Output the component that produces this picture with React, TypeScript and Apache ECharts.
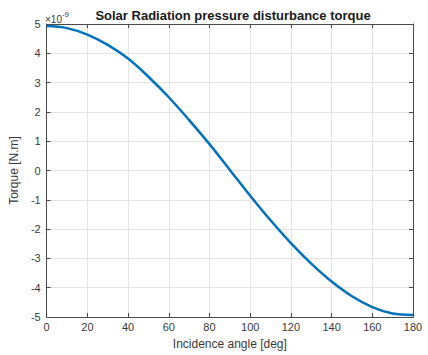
import React, { useEffect, useRef } from "react";
import * as echarts from "echarts";

// Incidence angle [deg]
const angles: number[] = [0, 10, 20, 30, 40, 50, 60, 70, 80, 90, 100, 110, 120, 130, 140, 150, 160, 170, 180];
// Torque in units of 1e-9 N.m
const torque: number[] = [4.93, 4.86, 4.64, 4.29, 3.82, 3.2, 2.5, 1.72, 0.9, 0.02, -0.86, -1.7, -2.48, -3.18, -3.79, -4.29, -4.66, -4.88, -4.93];

const titleText = "Solar Radiation pressure disturbance torque";
const xName = "Incidence angle [deg]";
const yName = "Torque [N.m]";

const FONT = "'Liberation Sans', Arial, Helvetica, sans-serif";
const AXIS_COLOR = "#4a4a4a";
const LABEL_COLOR = "#3a3a3a";
const GRID_COLOR = "#e3e3e3";

export default function App() {
  const ref = useRef<HTMLDivElement>(null);
  useEffect(() => {
    if (!ref.current) return;
    const chart = echarts.init(ref.current, undefined, { renderer: "svg" });
    const data = angles.map((a, i) => [a, torque[i]]);
    const baseX = {
      type: "value" as const,
      min: 0,
      max: 180,
      interval: 20,
      axisLine: { show: true, onZero: false, lineStyle: { color: AXIS_COLOR, width: 1 } },
      axisTick: { show: true, inside: true, length: 4, lineStyle: { color: AXIS_COLOR } },
    };
    const baseY = {
      type: "value" as const,
      min: -5,
      max: 5,
      interval: 1,
      axisLine: { show: true, onZero: false, lineStyle: { color: AXIS_COLOR, width: 1 } },
      axisTick: { show: true, inside: true, length: 4, lineStyle: { color: AXIS_COLOR } },
    };
    chart.setOption({
      animation: false,
      backgroundColor: "#ffffff",
      grid: { left: 43, right: 15, top: 24, bottom: 38, containLabel: false },
      title: {
        text: titleText,
        left: 228,
        textAlign: "center",
        top: 4,
        textStyle: { fontFamily: FONT, fontSize: 13, fontWeight: "bold", color: "#1a1a1a" },
      },
      xAxis: [
        {
          ...baseX,
          position: "bottom",
          name: xName,
          nameLocation: "middle",
          nameGap: 21,
          nameTextStyle: { fontFamily: FONT, fontSize: 12, color: LABEL_COLOR },
          axisLabel: { fontFamily: FONT, fontSize: 11, color: LABEL_COLOR, margin: 4 },
          splitLine: { show: true, lineStyle: { color: GRID_COLOR, width: 1 } },
        },
        {
          ...baseX,
          position: "top",
          axisLabel: { show: false },
          splitLine: { show: false },
        },
      ],
      yAxis: [
        {
          ...baseY,
          position: "left",
          name: yName,
          nameLocation: "middle",
          nameGap: 21,
          nameTextStyle: { fontFamily: FONT, fontSize: 12, color: LABEL_COLOR },
          axisLabel: { fontFamily: FONT, fontSize: 11, color: LABEL_COLOR, margin: 6 },
          splitLine: { show: true, lineStyle: { color: GRID_COLOR, width: 1 } },
        },
        {
          ...baseY,
          position: "right",
          axisLabel: { show: false },
          splitLine: { show: false },
        },
      ],
      graphic: [
        {
          type: "text",
          left: 45,
          top: 10,
          style: {
            text: "{a|×10}{b|-9}",
            rich: {
              a: { fontFamily: FONT, fontSize: 10, fill: LABEL_COLOR, verticalAlign: "bottom" },
              b: { fontFamily: FONT, fontSize: 8, fill: LABEL_COLOR, verticalAlign: "top", padding: [0, 0, 6, 0] },
            },
          },
        },
      ],
      series: [
        {
          type: "line",
          xAxisIndex: 0,
          yAxisIndex: 0,
          data,
          smooth: 0.35,
          showSymbol: false,
          lineStyle: { color: "#0072BD", width: 2.5 },
          z: 5,
        },
      ],
    });
    return () => chart.dispose();
  }, []);
  return (
    <div
      ref={ref}
      style={{ position: "fixed", left: 0, top: 0, width: 428, height: 355, background: "#fff" }}
    />
  );
}
